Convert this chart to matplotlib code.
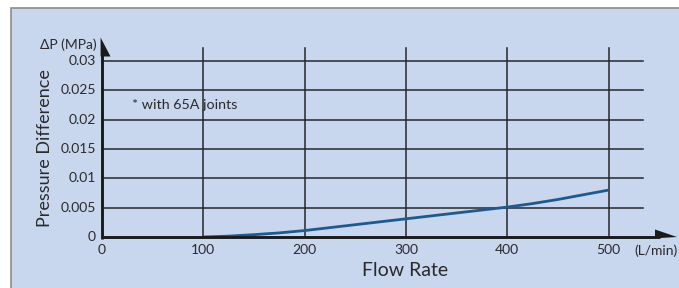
import matplotlib.pyplot as plt
from matplotlib.patches import Rectangle, Polygon

plt.rcParams['font.family'] = ['Lato', 'DejaVu Sans']

# data
flow = [100, 125, 150, 175, 200, 225, 250, 275, 300, 325, 350, 375, 400, 425, 450, 475, 500]
dp = [0.0, 0.00015, 0.0004, 0.0007, 0.0011, 0.0016, 0.0021, 0.0026, 0.0031,
      0.0036, 0.0041, 0.0046, 0.0051, 0.0057, 0.0064, 0.0072, 0.0080]
x_ticks = [0, 100, 200, 300, 400, 500]
y_ticks = [0, 0.005, 0.01, 0.015, 0.02, 0.025, 0.03]
y_labels = ['0', '0.005', '0.01', '0.015', '0.02', '0.025', '0.03']

W, H = 679, 288
fig = plt.figure(figsize=(W / 100, H / 100), dpi=100)
fig.patch.set_facecolor('white')


def px(x, y):
    # pixel position (from top-left) -> figure fraction
    return (x / W, 1 - y / H)


# light blue panel with grey border, behind the axes
panel = Rectangle((11 / W, -0.01), 1.02, (280 / H) + 0.01, transform=fig.transFigure,
                  facecolor='#c8d6ee', edgecolor='#8c8c8c', linewidth=1.2, zorder=-5)
fig.add_artist(panel)

ax = fig.add_axes([102 / W, 51 / H, 576 / W, 197 / H])
ax.set_zorder(2)
ax.set_facecolor('none')
ax.set_xlim(0, 568.6)
ax.set_ylim(0, 0.0336)
for s in ax.spines.values():
    s.set_visible(False)
ax.set_xticks([])
ax.set_yticks([])

grid_c = '#26262a'
x_end = 534
y_end = 0.0322
for y in y_ticks[1:]:
    ax.plot([0, x_end], [y, y], color=grid_c, lw=1.1, clip_on=False)
for x in x_ticks[1:]:
    ax.plot([x, x], [0, y_end], color=grid_c, lw=1.1, clip_on=False)

# axis lines with half arrow heads
ax_c = '#1a1a1a'
fig.add_artist(plt.Line2D([px(102, 0)[0], px(660, 0)[0]], [px(0, 237)[1]] * 2,
                          color=ax_c, lw=2.1, solid_capstyle='butt', zorder=3))
fig.add_artist(plt.Line2D([px(102, 0)[0]] * 2, [px(0, 238.5)[1], px(0, 50)[1]],
                          color=ax_c, lw=2.1, solid_capstyle='butt', zorder=3))
fig.add_artist(Polygon([px(655, 229.5), px(677, 237), px(655, 238.3)], closed=True,
                       transform=fig.transFigure, facecolor=ax_c, edgecolor='none', zorder=3))
fig.add_artist(Polygon([px(100.6, 37.5), px(110.5, 56.5), px(100.6, 56.5)], closed=True,
                       transform=fig.transFigure, facecolor=ax_c, edgecolor='none', zorder=3))

ax.plot(flow, dp, color='#1d5a8e', lw=2.0, clip_on=False, solid_capstyle='butt')

tc = '#2a2a2a'
fs = 10
for y, lab in zip(y_ticks, y_labels):
    ax.text(-6, y, lab, ha='right', va='center', fontsize=fs, color=tc)
for x in x_ticks:
    ax.text(x, -0.0012, str(x), ha='center', va='top', fontsize=fs, color=tc)
ax.text(526, -0.0012, '(L/min)', ha='left', va='top', fontsize=fs, color=tc)

fig.text(97 / W, 1 - 45 / H, 'ΔP (MPa)', ha='right', va='center', fontsize=fs, color=tc)
fig.text(405 / W, 1 - 271 / H, 'Flow Rate', ha='center', va='center', fontsize=14, color=tc)
fig.text(45 / W, 1 - 148.5 / H, 'Pressure Difference', ha='center', va='center',
         rotation=90, fontsize=13, color=tc)
ax.text(29.5, 0.0225, '* with 65A joints', ha='left', va='center', fontsize=10.3, color=tc)

fig.savefig('out.png', dpi=100)
